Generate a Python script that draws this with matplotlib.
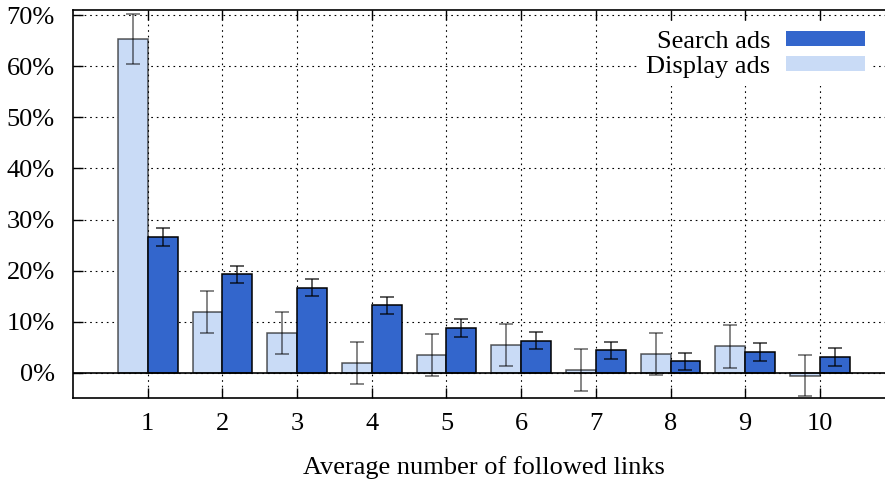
# importing library
import matplotlib.pyplot as plt
from matplotlib.patches import Patch

# data (percent)
links = [1, 2, 3, 4, 5, 6, 7, 8, 9, 10]
display_ads = [65.3, 11.9, 7.8, 1.9, 3.5, 5.5, 0.5, 3.7, 5.2, -0.5]
display_err = [4.9, 4.1, 4.05, 4.1, 4.1, 4.1, 4.1, 4.1, 4.15, 4.1]
search_ads = [26.6, 19.3, 16.7, 13.2, 8.8, 6.3, 4.4, 2.3, 4.1, 3.1]
search_err = [1.75, 1.65, 1.7, 1.65, 1.75, 1.7, 1.75, 1.7, 1.7, 1.7]
y_ticks = [0, 10, 20, 30, 40, 50, 60, 70]

search_color = '#3366cc'
display_color = '#c9dbf6'

plt.rcParams['font.family'] = ['Liberation Serif', 'DejaVu Serif']
plt.rcParams['font.size'] = 19

fig = plt.figure(figsize=(8.85, 4.8), dpi=100)
# the right side of the frame runs past the picture edge, like the original
ax = fig.add_axes([0.0825, 0.1708, 0.9283, 0.8083])

w = 0.4
x_disp = [x - w / 2 for x in links]
x_search = [x + w / 2 for x in links]

# bars
ax.bar(x_disp, display_ads, width=w, color=display_color,
       edgecolor=(0, 0, 0, 0.65), linewidth=1.1, zorder=3)
ax.bar(x_search, search_ads, width=w, color=search_color,
       edgecolor='black', linewidth=1.1, zorder=3)

# error bars
ax.errorbar(x_disp, display_ads, yerr=display_err, fmt='none',
            ecolor=(0, 0, 0, 0.6), elinewidth=1.1, capsize=5,
            capthick=1.1, zorder=4)
ax.errorbar(x_search, search_ads, yerr=search_err, fmt='none',
            ecolor=(0, 0, 0, 0.8), elinewidth=1.1, capsize=5,
            capthick=1.1, zorder=4)

# zero line
ax.axhline(0, color='black', linewidth=1.2, zorder=3.5)

ax.set_xlim(0, 11)
ax.set_ylim(-4.9, 71)
ax.set_xticks(links)
ax.set_yticks(y_ticks)
ax.set_yticklabels([str(t) + '%' for t in y_ticks])

# dotted grid like gnuplot
ax.grid(True, color='black', linestyle=(0, (1.5, 3.5)), linewidth=0.8,
        zorder=1)
ax.set_axisbelow(True)

ax.tick_params(axis='x', direction='in', length=7, width=1, top=True,
               pad=11)
ax.tick_params(axis='y', direction='in', length=7, width=1, right=True,
               pad=13)
for s in ax.spines.values():
    s.set_linewidth(1.2)

ax.set_xlabel('Average number of followed links', labelpad=15)

# legend: text on the left, colour box on the right
handles = [Patch(facecolor=search_color, edgecolor='none'),
           Patch(facecolor=display_color, edgecolor='none')]
leg = ax.legend(handles, ['Search ads', 'Display ads'], loc='upper right',
                bbox_to_anchor=(873 / 885, 457 / 480),
                bbox_transform=fig.transFigure, markerfirst=False,
                handlelength=3.0, handleheight=0.53, handletextpad=0.6,
                labelspacing=0.1, borderpad=0.3, borderaxespad=0,
                frameon=True, fancybox=False, framealpha=1,
                facecolor='white', edgecolor='none')

plt.savefig('out.png', dpi=100)
